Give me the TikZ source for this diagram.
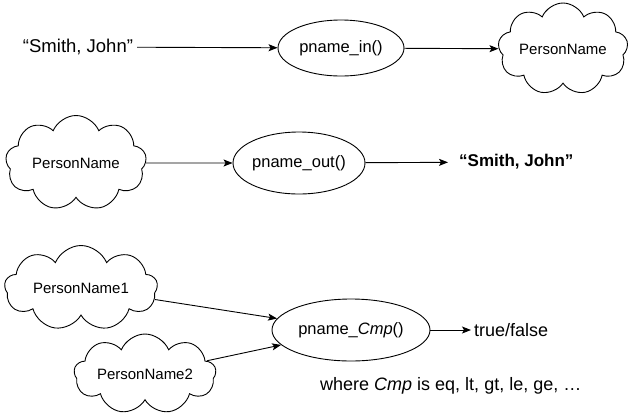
\documentclass[tikz,border=0pt]{standalone}
\usepackage{fontspec}
\setmainfont{Liberation Sans}
\usetikzlibrary{shapes.geometric,shapes.symbols,arrows.meta}
\begin{document}
\begin{tikzpicture}[x=1pt,y=-1pt,
  lbl/.style={inner sep=2pt,font=\fontsize{18}{21}\selectfont},
  fnlbl/.style={inner sep=0pt,font=\fontsize{16.5}{20}\selectfont},
  fn/.style={draw,ellipse,line width=0.9pt,inner sep=0pt},
  cl/.style={draw,cloud,cloud puffs=9,cloud puff arc=135,cloud ignores aspect,line width=0.9pt,inner sep=0pt,font=\fontsize{15}{18}\selectfont},
  conn/.style={line width=0.9pt,-{Stealth[length=9pt,width=7pt,inset=2pt]}}]
\useasboundingbox (0,0) rectangle (642,416);
% row 1
\node[lbl,font=\fontsize{18.5}{22}\selectfont] (s1) at (78,47) {“Smith, John”};
\node[fn,minimum width=126pt,minimum height=56pt,label={[fnlbl]center:pname\_in()}] (e1) at (341,48) {};
\node[cl,minimum width=130pt,minimum height=92pt] (c1) at (563,49) {PersonName};
\draw[conn,shorten <=2pt] (s1) -- (e1);
\draw[conn] (e1) -- (c1);
% row 2
\node[cl,minimum width=141pt,minimum height=95pt] (c2) at (76,163) {PersonName};
\node[fn,minimum width=132pt,minimum height=62pt,label={[fnlbl]center:pname\_out()}] (e2) at (299,163) {};
\node[lbl,anchor=west,font=\fontsize{17}{20}\selectfont\bfseries] (t2) at (457,162) {“Smith, John”};
\draw[conn] (c2) -- (e2);
\draw[conn,shorten >=9pt] (e2) -- (t2);
% row 3
\node[cl,minimum width=153pt,minimum height=85pt] (c3a) at (81,288) {PersonName1};
\node[cl,minimum width=142pt,minimum height=80pt] (c3b) at (145,374) {PersonName2};
\node[fn,minimum width=158pt,minimum height=62pt,label={[fnlbl]center:pname\_\textit{Cmp}()}] (e3) at (351,330) {};
\node[lbl,anchor=west] (t3) at (472,330) {true/false};
\node[lbl,anchor=west] (w3) at (318,386) {where \textit{Cmp} is eq, lt, gt, le, ge, …};
\draw[conn] (c3a) -- (e3);
\draw[conn] (c3b) -- (e3);
\draw[conn,shorten >=1pt] (e3) -- (t3);
\end{tikzpicture}
\end{document}
